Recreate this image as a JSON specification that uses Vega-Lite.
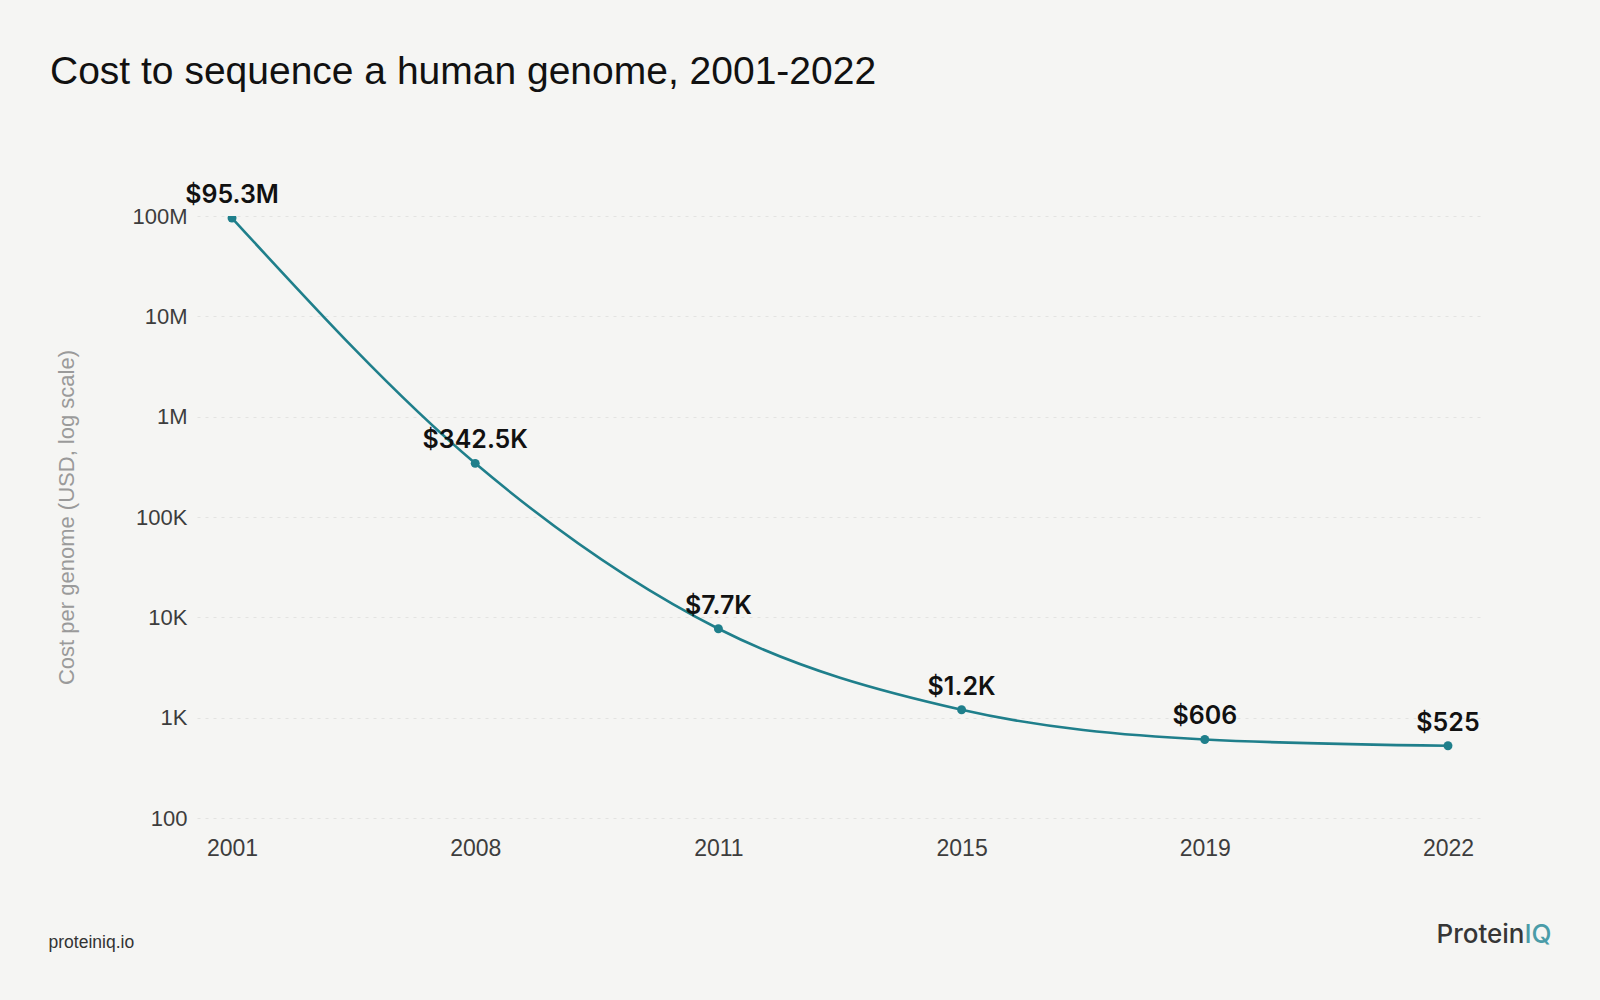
{
  "$schema": "https://vega.github.io/schema/vega-lite/v6.json",
  "width": 1286,
  "height": 602,
  "autosize": {"type": "none"},
  "padding": {"left": 197, "top": 216, "right": 117, "bottom": 182},
  "background": "#f5f5f3",
  "title": {
    "text": "Cost to sequence a human genome, 2001-2022",
    "anchor": "start",
    "frame": "group",
    "dx": -147,
    "offset": 60,
    "baseline": "alphabetic",
    "font": "Liberation Sans",
    "fontSize": 39,
    "fontWeight": "normal",
    "color": "#111111"
  },
  "data": {
    "values": [
      {"year": "2001", "cost": 95300000, "label": "$95.3M"},
      {"year": "2008", "cost": 342500, "label": "$342.5K"},
      {"year": "2011", "cost": 7700, "label": "$7.7K"},
      {"year": "2015", "cost": 1200, "label": "$1.2K"},
      {"year": "2019", "cost": 606, "label": "$606"},
      {"year": "2022", "cost": 525, "label": "$525"}
    ]
  },
  "layer": [
    {
      "mark": {"type": "line", "interpolate": "monotone", "color": "#1f7f8b", "strokeWidth": 2.6},
      "encoding": {
        "x": {
          "field": "year", "type": "ordinal", "sort": null,
          "scale": {"type": "point", "padding": 0.144},
          "axis": {
            "orient": "bottom",
            "domain": false, "ticks": false, "grid": false,
            "labelAngle": 0,
            "labelFont": "Liberation Sans", "labelFontSize": 23, "labelColor": "#3d3d3d",
            "labelPadding": 19,
            "title": "proteiniq.io",
            "titleX": -149, "titleY": 124, "titleAngle": 0,
            "titleAlign": "left", "titleBaseline": "middle",
            "titleFont": "Liberation Sans", "titleFontSize": 17.5, "titleFontWeight": "normal",
            "titleColor": "#333333"
          }
        },
        "y": {
          "field": "cost", "type": "quantitative",
          "scale": {"type": "log", "domain": [100, 100000000], "nice": false},
          "axis": {
            "orient": "left",
            "values": [100, 1000, 10000, 100000, 1000000, 10000000, 100000000],
            "labelExpr": "datum.value >= 1000000 ? (datum.value / 1000000) + 'M' : datum.value >= 1000 ? (datum.value / 1000) + 'K' : datum.value",
            "domain": false, "ticks": false,
            "grid": true, "gridColor": "#e3e3e1", "gridDash": [3, 5], "gridWidth": 1,
            "labelFont": "Liberation Sans", "labelFontSize": 22, "labelColor": "#3d3d3d",
            "labelPadding": 10,
            "title": "Cost per genome (USD, log scale)",
            "titleX": -131, "titleY": 301, "titleAngle": -90,
            "titleAlign": "center", "titleBaseline": "middle",
            "titleFont": "Liberation Sans", "titleFontSize": 22, "titleFontWeight": "normal",
            "titleColor": "#9a9a9a"
          }
        }
      }
    },
    {
      "mark": {"type": "circle", "size": 80, "opacity": 1, "color": "#1f7f8b", "clip": true},
      "encoding": {
        "x": {
          "field": "year", "type": "ordinal", "sort": null,
          "scale": {"type": "point", "padding": 0.144},
          "axis": {
            "orient": "top",
            "domain": false, "ticks": false, "labels": false, "grid": false,
            "title": "Protein",
            "titleX": 1327, "titleY": 726, "titleAngle": 0,
            "titleAlign": "right", "titleBaseline": "alphabetic",
            "titleFont": "Inter", "titleFontSize": 26, "titleFontWeight": 500,
            "titleColor": "#363636"
          }
        },
        "y": {
          "field": "cost", "type": "quantitative",
          "scale": {"type": "log", "domain": [100, 100000000], "nice": false},
          "axis": null
        }
      }
    },
    {
      "mark": {"type": "text", "font": "Inter", "fontSize": 25, "fontWeight": 600, "color": "#111111", "baseline": "alphabetic", "dy": -15},
      "encoding": {
        "x": {
          "field": "year", "type": "ordinal", "sort": null,
          "scale": {"type": "point", "padding": 0.144},
          "axis": null
        },
        "y": {
          "field": "cost", "type": "quantitative",
          "scale": {"type": "log", "domain": [100, 100000000], "nice": false},
          "axis": {
            "orient": "right",
            "domain": false, "ticks": false, "labels": false, "grid": false,
            "title": "IQ",
            "titleX": 41, "titleY": 726, "titleAngle": 0,
            "titleAlign": "left", "titleBaseline": "alphabetic",
            "titleFont": "Inter", "titleFontSize": 26, "titleFontWeight": 500,
            "titleColor": "#4a9ca8"
          }
        },
        "text": {"field": "label"}
      }
    }
  ],
  "resolve": {"axis": {"x": "independent", "y": "independent"}},
  "config": {"view": {"stroke": null}}
}
